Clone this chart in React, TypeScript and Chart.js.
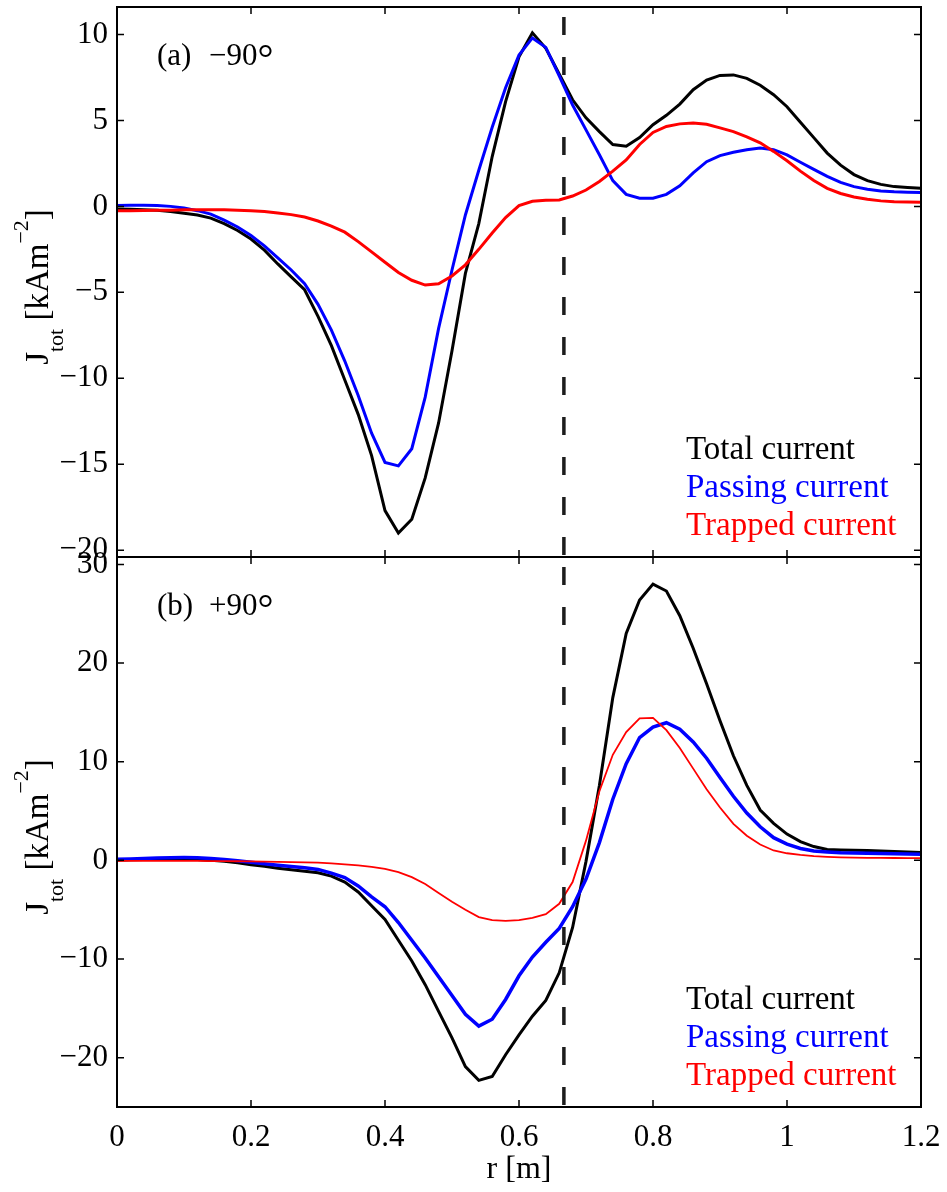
import React, { useEffect, useRef } from 'react';
import { Chart, registerables } from 'chart.js';

Chart.register(...registerables);

const W = 947;
const H = 1192;
const SERIF = '"Liberation Serif", "Times New Roman", Times, serif';

// Minor radius grid [m]
const radius = [
  0, 0.02, 0.04, 0.06, 0.08, 0.1, 0.12, 0.14, 0.16, 0.18,
  0.2, 0.22, 0.24, 0.26, 0.28, 0.3, 0.32, 0.34, 0.36, 0.38,
  0.4, 0.42, 0.44, 0.46, 0.48, 0.5, 0.52, 0.54, 0.56, 0.58,
  0.6, 0.62, 0.64, 0.66, 0.68, 0.7, 0.72, 0.74, 0.76, 0.78,
  0.8, 0.82, 0.84, 0.86, 0.88, 0.9, 0.92, 0.94, 0.96, 0.98,
  1.0, 1.02, 1.04, 1.06, 1.08, 1.1, 1.12, 1.14, 1.16, 1.18, 1.2,
];

// (a) -90 deg: current densities [kA m^-2]
const totalMinus90 = [
  -0.15, -0.17, -0.2, -0.23, -0.3, -0.4, -0.5, -0.68, -1.0, -1.4,
  -1.9, -2.55, -3.35, -4.1, -4.85, -6.4, -8.1, -10.1, -12.1, -14.5,
  -17.7, -19.0, -18.2, -15.8, -12.6, -8.4, -3.9, -1.0, 2.9, 6.1,
  8.7, 10.1, 9.2, 7.7, 6.2, 5.15, 4.35, 3.6, 3.5, 4.0,
  4.75, 5.3, 5.95, 6.79, 7.35, 7.62, 7.65, 7.45, 7.05, 6.5,
  5.8, 4.9, 4.0, 3.1, 2.4, 1.85, 1.5, 1.28, 1.15, 1.1, 1.05,
];
const passingMinus90 = [
  0.05, 0.07, 0.07, 0.05, 0.0, -0.1, -0.25, -0.45, -0.8, -1.2,
  -1.7, -2.3, -3.0, -3.7, -4.5, -5.7, -7.2, -9.0, -11.0, -13.2,
  -14.9, -15.1, -14.1, -11.1, -7.1, -3.7, -0.5, 2.1, 4.6, 6.9,
  8.8, 9.8, 9.25, 7.6, 5.9, 4.45, 3.0, 1.5, 0.7, 0.48,
  0.48, 0.7, 1.2, 1.95, 2.6, 2.95, 3.15, 3.3, 3.39, 3.3,
  3.0, 2.57, 2.15, 1.75, 1.4, 1.15, 1.0, 0.9, 0.85, 0.82, 0.8,
];
const trappedMinus90 = [
  -0.25, -0.25, -0.24, -0.23, -0.22, -0.2, -0.2, -0.2, -0.2, -0.22,
  -0.25, -0.3, -0.38, -0.48, -0.62, -0.85, -1.15, -1.5, -2.05, -2.65,
  -3.25, -3.85, -4.3, -4.58, -4.5, -4.05, -3.4, -2.5, -1.55, -0.65,
  0.05, 0.3, 0.35, 0.37, 0.6, 0.95, 1.45, 2.05, 2.7, 3.6,
  4.3, 4.65, 4.8, 4.85, 4.78, 4.57, 4.35, 4.05, 3.7, 3.2,
  2.65, 2.05, 1.5, 1.05, 0.75, 0.55, 0.42, 0.32, 0.27, 0.25, 0.24,
];

// (b) +90 deg: current densities [kA m^-2]
const totalPlus90 = [
  0.02, 0.05, 0.1, 0.12, 0.12, 0.12, 0.08, 0.0, -0.1, -0.25,
  -0.45, -0.6, -0.8, -0.95, -1.1, -1.25, -1.6, -2.2, -3.2, -4.6,
  -6.0, -8.1, -10.2, -12.6, -15.3, -18.0, -20.9, -22.3, -21.9, -19.7,
  -17.7, -15.8, -14.2, -11.4, -6.8, -0.1, 7.6, 16.5, 23.0, 26.4,
  28.0, 27.3, 24.8, 21.5, 17.9, 14.15, 10.6, 7.6, 5.1, 3.75,
  2.66, 1.9, 1.4, 1.1, 1.05, 1.02, 1.0, 0.95, 0.9, 0.85, 0.8,
];
const passingPlus90 = [
  0.12, 0.15, 0.2, 0.24, 0.27, 0.28, 0.26, 0.2, 0.1, -0.05,
  -0.2, -0.35, -0.5, -0.62, -0.75, -0.92, -1.3, -1.75, -2.6, -3.7,
  -4.7, -6.3, -8.1, -9.9, -11.8, -13.7, -15.6, -16.8, -16.1, -14.1,
  -11.7, -9.8, -8.3, -6.9, -4.7, -1.9, 1.8, 6.2, 9.8, 12.45,
  13.5, 13.95, 13.3, 12.0, 10.35, 8.4, 6.5, 4.8, 3.4, 2.3,
  1.64, 1.2, 0.95, 0.85, 0.78, 0.75, 0.72, 0.7, 0.67, 0.65, 0.63,
];
const trappedPlus90 = [
  -0.05, -0.05, -0.05, -0.05, -0.05, -0.05, -0.06, -0.07, -0.08, -0.09,
  -0.1, -0.12, -0.15, -0.17, -0.2, -0.22, -0.3, -0.4, -0.5, -0.65,
  -0.87, -1.2, -1.7, -2.4, -3.3, -4.2, -5.0, -5.75, -6.05, -6.14,
  -6.05, -5.82, -5.45, -4.4, -2.2, 2.0, 7.0, 10.7, 13.0, 14.4,
  14.45, 13.2, 11.4, 9.3, 7.2, 5.36, 3.7, 2.5, 1.6, 1.0,
  0.72, 0.55, 0.42, 0.35, 0.3, 0.28, 0.26, 0.25, 0.24, 0.23, 0.22,
];

// Axis limits and tick positions
const rRange = [0, 1.2];
const rTicks = [0, 0.2, 0.4, 0.6, 0.8, 1, 1.2];
const topRange = [-20.4, 11.6];
const topTicks = [-20, -15, -10, -5, 0, 5, 10];
const bottomRange = [-25, 30.75];
const bottomTicks = [-20, -10, 0, 10, 20, 30];

// Radius of the marked surface (vertical dashed line)
const markerRadius = 0.667;

const seriesLabels = ['Total current', 'Passing current', 'Trapped current'];
const seriesColors = ['#000000', '#0000ff', '#ff0000'];
const panelTags = ['(a)', '(b)'];
const panelAngles = ['\u221290', '+90'];

const toPoints = (vals: number[]) => radius.map((r, i) => ({ x: r, y: vals[i] }));
const minusSign = (v: number) => String(v).replace('-', '\u2212');

const TICK_LEN = 7;

const panelDecor = {
  id: 'panelDecor',
  afterDatasetsDraw(chart: any) {
    const { ctx, chartArea } = chart;
    const xs = chart.scales.x;
    const left = chartArea.left;
    const right = chartArea.right;
    ['yTop', 'yBot'].forEach((id) => {
      const ys = chart.scales[id];
      const top = ys.top;
      const bottom = ys.bottom;

      // dashed vertical marker
      const mx = xs.getPixelForValue(markerRadius);
      ctx.save();
      ctx.strokeStyle = '#1c1c1c';
      ctx.lineWidth = 3.5;
      ctx.setLineDash([18, 22]);
      ctx.lineDashOffset = 30;
      ctx.beginPath();
      ctx.moveTo(mx, top);
      ctx.lineTo(mx, bottom - 2);
      ctx.stroke();
      ctx.restore();

      // inward tick marks
      ctx.save();
      ctx.strokeStyle = '#000';
      ctx.lineWidth = 1.5;
      ctx.beginPath();
      ys.ticks.forEach((t: any) => {
        const py = ys.getPixelForValue(t.value);
        if (py < top + 2 || py > bottom - 2) return;
        ctx.moveTo(left, py);
        ctx.lineTo(left + TICK_LEN, py);
        ctx.moveTo(right, py);
        ctx.lineTo(right - TICK_LEN, py);
      });
      xs.ticks.forEach((t: any) => {
        const px = xs.getPixelForValue(t.value);
        if (px < left + 2 || px > right - 2) return;
        ctx.moveTo(px, top);
        ctx.lineTo(px, top + TICK_LEN);
        ctx.moveTo(px, bottom);
        ctx.lineTo(px, bottom - TICK_LEN);
      });
      ctx.stroke();

      // panel frame
      ctx.lineWidth = 2;
      ctx.strokeRect(left, top, right - left, bottom - top);
      ctx.restore();
    });
  },
  afterDraw(chart: any) {
    const { ctx, chartArea } = chart;
    ['yTop', 'yBot'].forEach((id, k) => {
      const ys = chart.scales[id];
      const top = ys.top;
      const bottom = ys.bottom;
      ctx.save();
      ctx.textBaseline = 'alphabetic';
      ctx.textAlign = 'left';

      // panel tag and angle
      ctx.fillStyle = '#000';
      ctx.font = `31px ${SERIF}`;
      const by = top + 58;
      ctx.fillText(panelTags[k], 157, by);
      ctx.fillText(panelAngles[k], 209, by);
      const aw = ctx.measureText(panelAngles[k]).width;
      ctx.font = `40px ${SERIF}`;
      ctx.fillText('\u00B0', 209 + aw, by + 7);

      // series captions
      ctx.font = `33px ${SERIF}`;
      seriesLabels.forEach((txt, i) => {
        ctx.fillStyle = seriesColors[i];
        ctx.fillText(txt, chartArea.right - 235, top + 452 + i * 38);
      });

      // y-axis title: J_tot [kA m^-2]
      const parts = [
        { t: 'J', size: 33, dy: 0 },
        { t: 'tot', size: 22, dy: 15 },
        { t: ' [kAm', size: 33, dy: 0 },
        { t: '\u22122', size: 22, dy: -20 },
        { t: ']', size: 33, dy: 0 },
      ];
      let total = 0;
      const widths = parts.map((p) => {
        ctx.font = `${p.size}px ${SERIF}`;
        const w = ctx.measureText(p.t).width;
        total += w;
        return w;
      });
      ctx.translate(48, (top + bottom) / 2 + 5);
      ctx.rotate(-Math.PI / 2);
      ctx.fillStyle = '#000';
      let cx = -total / 2;
      parts.forEach((p, i) => {
        ctx.font = `${p.size}px ${SERIF}`;
        ctx.fillText(p.t, cx, p.dy);
        cx += widths[i];
      });
      ctx.restore();
    });
  },
};

function yAxis(range: number[], ticks: number[], weight: number) {
  return {
    type: 'linear',
    position: 'left',
    stack: 'panels',
    stackWeight: 1,
    weight,
    min: range[0],
    max: range[1],
    afterBuildTicks: (s: any) => {
      s.ticks = ticks.map((v) => ({ value: v }));
    },
    afterFit: (s: any) => {
      s.width = 117;
      s.paddingTop = 0;
      s.paddingBottom = 0;
    },
    grid: { display: false, drawTicks: false },
    border: { display: false },
    ticks: {
      padding: 9,
      color: '#000',
      font: { family: SERIF, size: 31 },
      callback: (v: number) => minusSign(v),
    },
  };
}

export default function App() {
  const ref = useRef<HTMLCanvasElement>(null);

  useEffect(() => {
    const canvas = ref.current;
    if (!canvas) return;
    const line = (vals: number[], color: string, width: number, axis: string, order: number) => ({
      data: toPoints(vals),
      yAxisID: axis,
      borderColor: color,
      borderWidth: width,
      pointRadius: 0,
      tension: 0,
      fill: false,
      order,
    });
    const chart = new Chart(canvas, {
      type: 'line',
      data: {
        datasets: [
          line(totalMinus90, seriesColors[0], 3, 'yTop', 3),
          line(passingMinus90, seriesColors[1], 3, 'yTop', 2),
          line(trappedMinus90, seriesColors[2], 3, 'yTop', 1),
          line(totalPlus90, seriesColors[0], 3, 'yBot', 3),
          line(passingPlus90, seriesColors[1], 3.5, 'yBot', 2),
          line(trappedPlus90, seriesColors[2], 1.8, 'yBot', 1),
        ],
      },
      options: {
        animation: false,
        responsive: false,
        maintainAspectRatio: false,
        layout: { padding: { top: 7, right: 26, left: 0, bottom: 0 } },
        plugins: { legend: { display: false }, tooltip: { enabled: false } },
        scales: {
          x: {
            type: 'linear',
            position: 'bottom',
            min: rRange[0],
            max: rRange[1],
            afterBuildTicks: (s: any) => {
              s.ticks = rTicks.map((v) => ({ value: v }));
            },
            afterFit: (s: any) => {
              s.height = 85;
              s.paddingLeft = 0;
              s.paddingRight = 0;
            },
            grid: { display: false, drawTicks: false },
            border: { display: false },
            ticks: {
              padding: 12,
              color: '#000',
              maxRotation: 0,
              autoSkip: false,
              font: { family: SERIF, size: 31 },
              callback: (v: number) => String(Number(v.toFixed(1))),
            },
            title: {
              display: true,
              text: 'r [m]',
              color: '#000',
              font: { family: SERIF, size: 32 },
              padding: { top: 0, bottom: 3 },
            },
          },
          yBot: yAxis(bottomRange, bottomTicks, 0),
          yTop: yAxis(topRange, topTicks, 1),
        } as any,
      },
      plugins: [panelDecor],
    } as any);
    return () => chart.destroy();
  }, []);

  return (
    <div style={{ position: 'absolute', left: 0, top: 0, width: W, height: H, background: '#fff' }}>
      <canvas ref={ref} width={W} height={H} style={{ display: 'block', width: W, height: H }} />
    </div>
  );
}
